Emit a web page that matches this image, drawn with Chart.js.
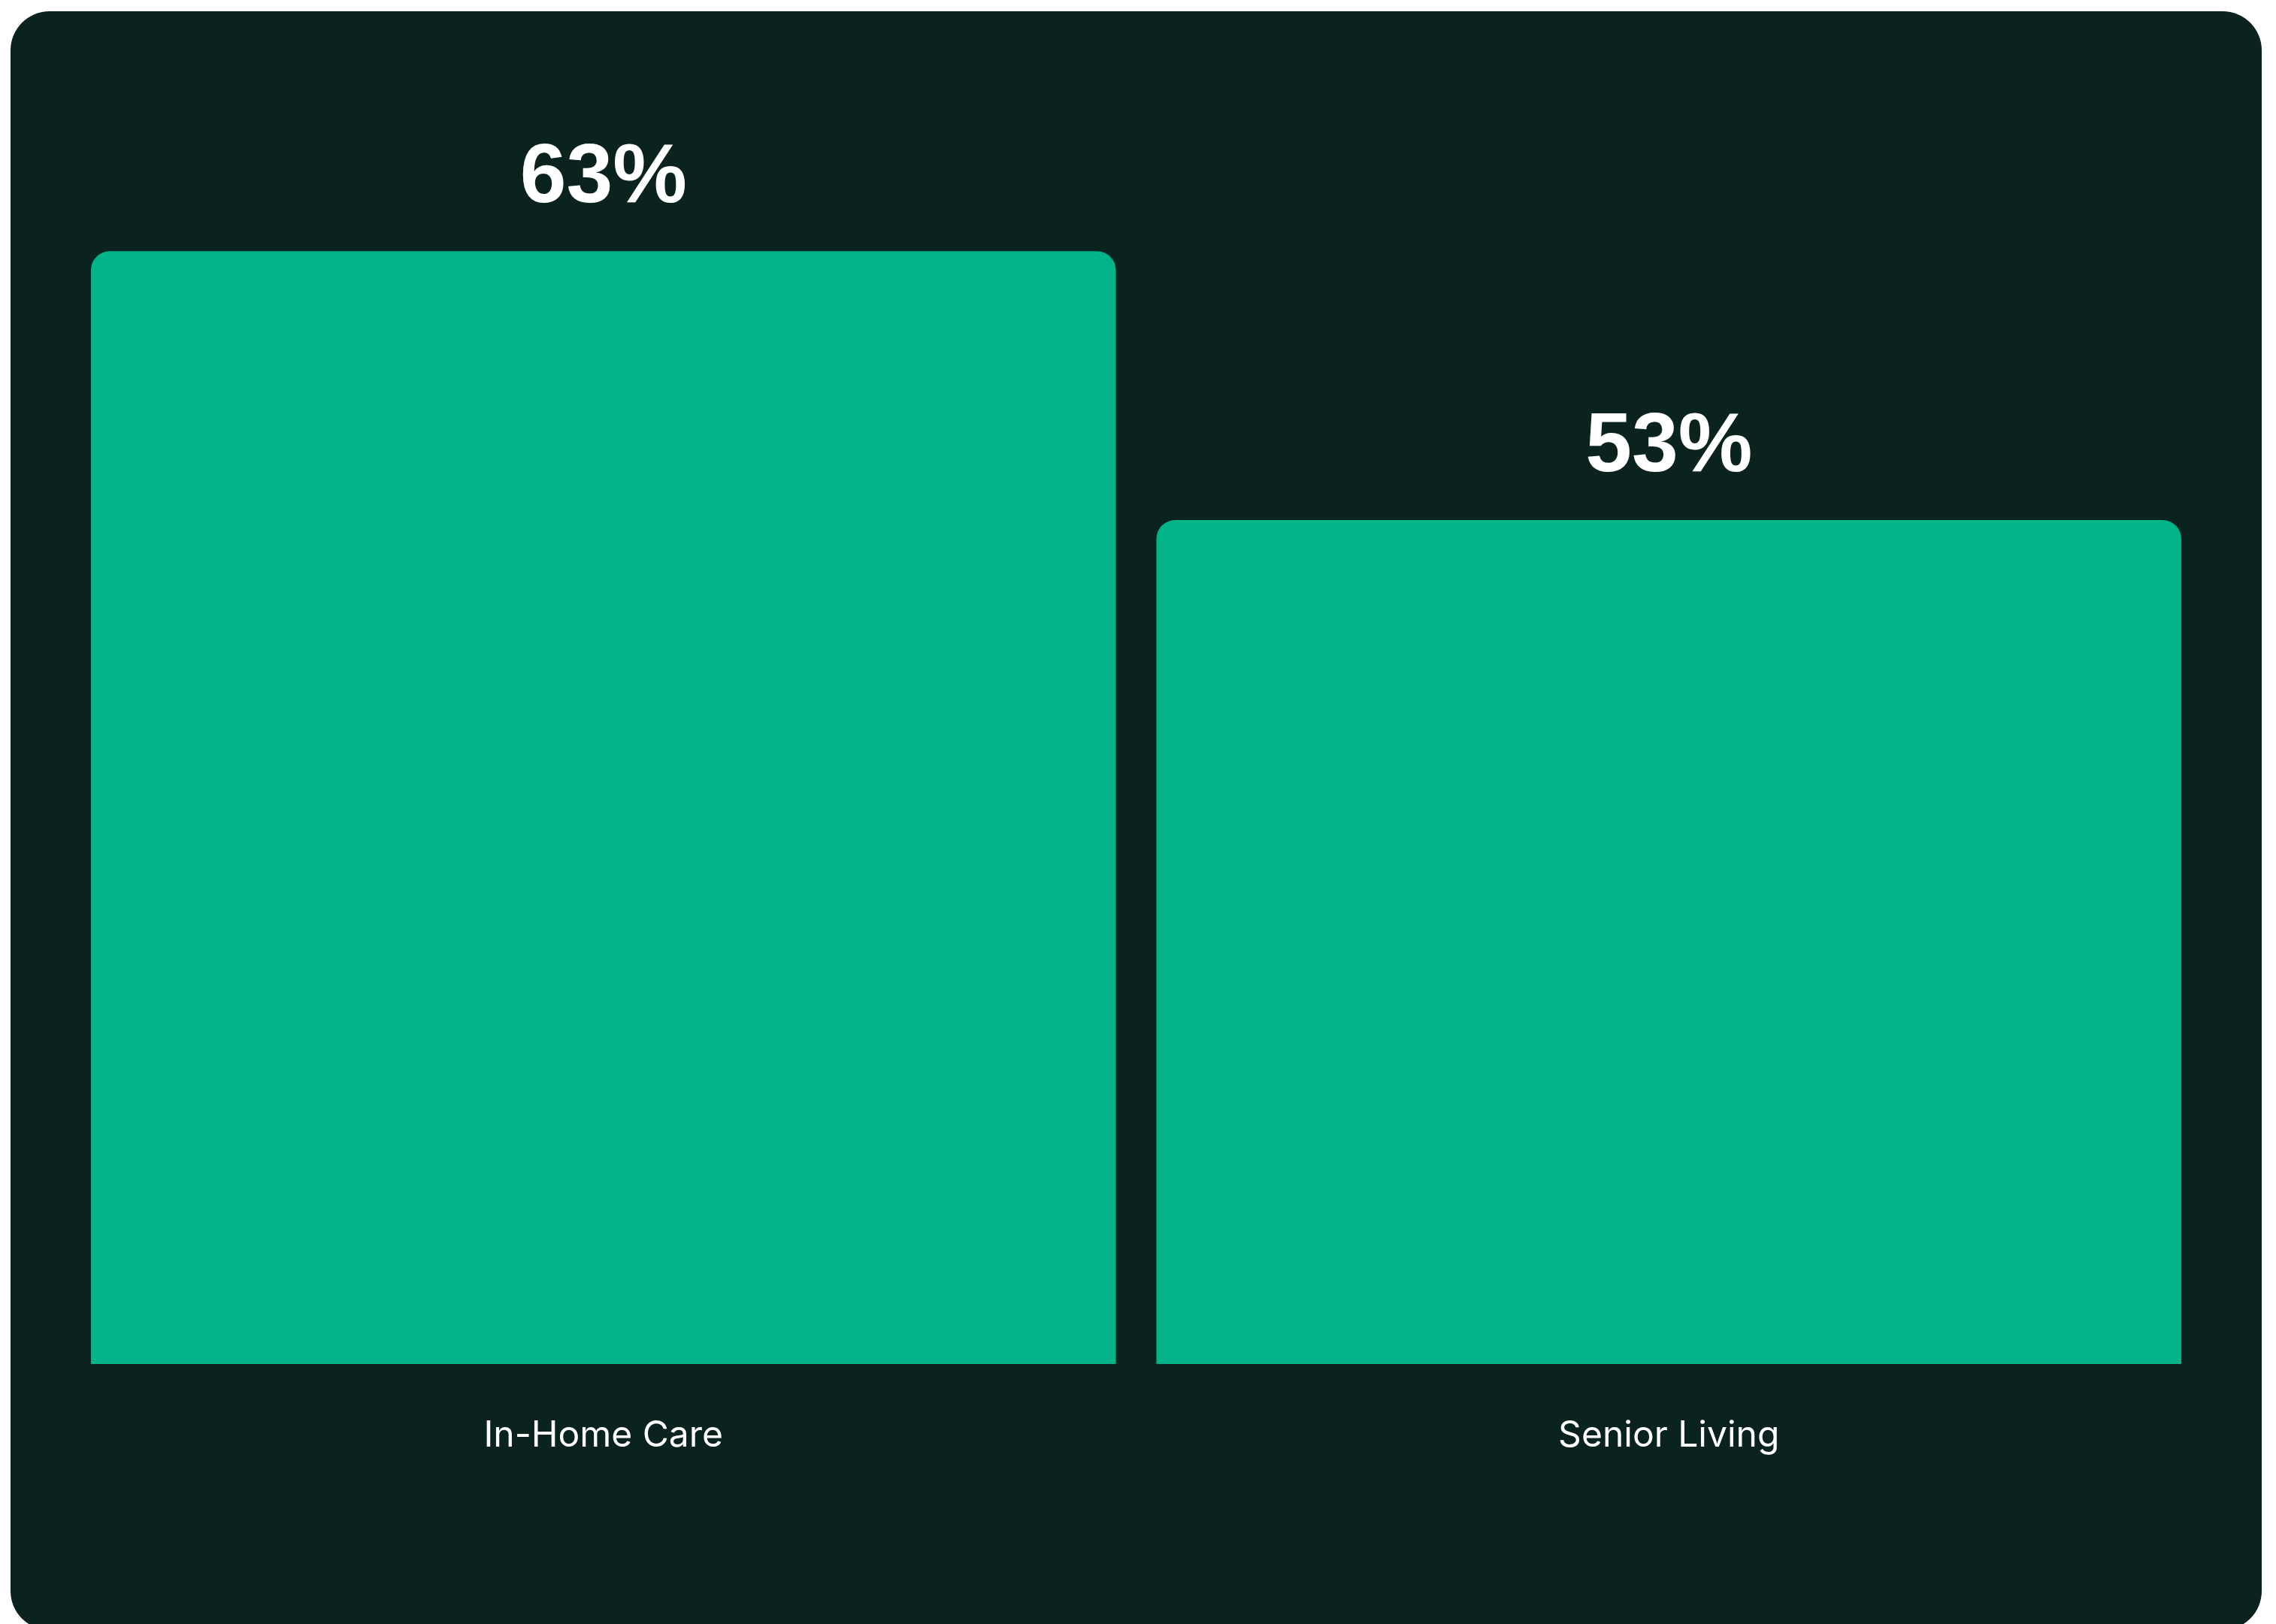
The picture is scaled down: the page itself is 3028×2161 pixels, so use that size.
<!DOCTYPE html>
<html lang="en">
<head>
    <meta charset="UTF-8">
    <title>In-Home Care vs Senior Living</title>
    <script src="https://cdn.jsdelivr.net/npm/chart.js"></script>
    <style>
        html, body { margin: 0; padding: 0; background: #ffffff; }
        body { width: 3028px; height: 2161px; overflow: hidden; position: relative; }
        .card {
            position: absolute; left: 14px; top: 15px;
            width: 2995px; height: 2154px;
            background: #0b231f; border-radius: 52px; overflow: hidden;
        }
        canvas { display: block; }
    </style>
</head>
<body>
    <div class="card">
        <canvas id="chart" width="2995" height="2154"></canvas>
    </div>
    <script>
        var categories = ['In-Home Care', 'Senior Living'];
        var values = [63, 53];
        var valueLabels = ['63%', '53%'];

        // value labels above bars
        var barValueLabels = {
            id: 'barValueLabels',
            afterDatasetsDraw: function(chart) {
                var ctx = chart.ctx;
                var meta = chart.getDatasetMeta(0);
                ctx.save();
                ctx.fillStyle = '#ffffff';
                ctx.font = '700 111px "Liberation Sans"';
                ctx.textAlign = 'center';
                ctx.textBaseline = 'alphabetic';
                meta.data.forEach(function(bar, i) {
                    ctx.fillText(valueLabels[i], bar.x, bar.y - 65);
                });
                ctx.restore();
            }
        };

        var ctx = document.getElementById('chart').getContext('2d');
        var chart = new Chart(ctx, {
            type: 'bar',
            data: {
                labels: categories,
                datasets: [{
                    data: values,
                    backgroundColor: '#00b388',
                    borderWidth: 0,
                    borderRadius: { topLeft: 25, topRight: 25 },
                    borderSkipped: 'bottom',
                    barPercentage: 0.962,
                    categoryPercentage: 1
                }]
            },
            options: {
                responsive: false,
                animation: false,
                layout: { padding: { left: 80, right: 80, top: 69, bottom: 0 } },
                plugins: {
                    legend: { display: false },
                    tooltip: { enabled: false }
                },
                scales: {
                    x: {
                        grid: { display: false },
                        border: { display: false },
                        ticks: {
                            color: '#ffffff',
                            font: { family: 'Inter', size: 48, weight: '400' },
                            padding: 59,
                            maxRotation: 0
                        },
                        afterFit: function(axis) { axis.height = 354; }
                    },
                    y: {
                        display: false,
                        min: 21.6,
                        max: 70
                    }
                }
            },
            plugins: [barValueLabels]
        });
    </script>
</body>
</html>
